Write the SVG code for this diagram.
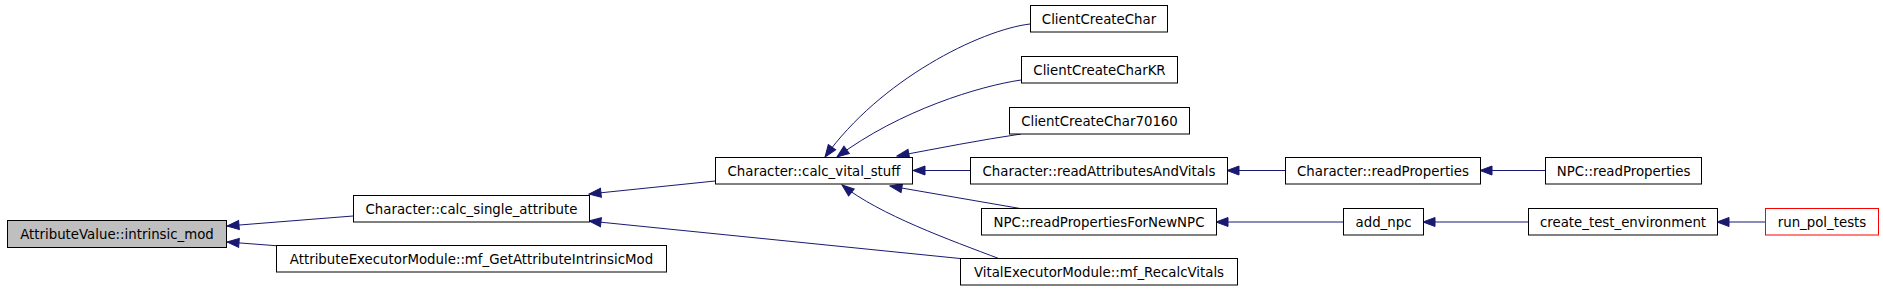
<svg xmlns="http://www.w3.org/2000/svg" width="1883" height="291" viewBox="0 0 1883 291">
<style>
.n rect{fill:#ffffff;stroke:#000000;stroke-width:1}
.n text{font-family:"DejaVu Sans","Liberation Sans",sans-serif;font-size:13.33px;fill:#000000;text-anchor:middle}
#edges path{fill:none;stroke:#191970;stroke-width:1;marker-end:url(#ah)}
</style>
<defs>
<marker id="ah" markerUnits="userSpaceOnUse" viewBox="-13 -6 14 12" markerWidth="14" markerHeight="12" refX="0" refY="0" orient="auto">
<path d="M-12,-4.5 L0,0 L-12,4.5 z" fill="#191970" stroke="#191970" stroke-width="1"/>
</marker>
</defs>
<rect width="1883" height="291" fill="#ffffff"/>
<g id="edges">
<path d="M353,216 L227,226"/>
<path d="M280,246 L227,242"/>
<path d="M715,181 L589,194"/>
<path d="M965,259 L589,221"/>
<path d="M1030,24 C980,30 880,80 825,157"/>
<path d="M1021,80 C980,86 900,110 837,157"/>
<path d="M1021,134 C980,140 940,148 897,156"/>
<path d="M970,170.5 L913,170.5"/>
<path d="M1023,209 L890,186"/>
<path d="M1000,259 C950,240 880,215 842,185"/>
<path d="M1285,170.5 L1227,170.5"/>
<path d="M1545,170.5 L1480,170.5"/>
<path d="M1343,222 L1216,222"/>
<path d="M1528,222 L1423,222"/>
<path d="M1765,222 L1717,222"/>
</g>
<g id="node1" class="n"><rect x="7.5" y="220.5" width="219" height="27" style="fill:#bfbfbf"/><text x="117" y="238.5">AttributeValue::intrinsic_mod</text></g>
<g id="node2" class="n"><rect x="353.5" y="195.5" width="236" height="26.5"/><text x="471.5" y="213.5">Character::calc_single_attribute</text></g>
<g id="node3" class="n"><rect x="276.5" y="245.5" width="390" height="26.5"/><text x="471.5" y="263.5">AttributeExecutorModule::mf_GetAttributeIntrinsicMod</text></g>
<g id="node4" class="n"><rect x="715.5" y="157.5" width="197" height="26.5"/><text x="814" y="175.5">Character::calc_vital_stuff</text></g>
<g id="node5" class="n"><rect x="1030.5" y="5.5" width="137" height="26.5"/><text x="1099" y="23.5">ClientCreateChar</text></g>
<g id="node6" class="n"><rect x="1021.5" y="56.5" width="156" height="26.5"/><text x="1099.5" y="74.5">ClientCreateCharKR</text></g>
<g id="node7" class="n"><rect x="1009.5" y="107.5" width="180" height="26.5"/><text x="1099.5" y="125.5">ClientCreateChar70160</text></g>
<g id="node8" class="n"><rect x="970.5" y="157.5" width="257" height="26.5"/><text x="1099" y="175.5">Character::readAttributesAndVitals</text></g>
<g id="node9" class="n"><rect x="981.5" y="208.5" width="235" height="26.5"/><text x="1099" y="226.5">NPC::readPropertiesForNewNPC</text></g>
<g id="node10" class="n"><rect x="960.5" y="258.5" width="277" height="26.5"/><text x="1099" y="276.5">VitalExecutorModule::mf_RecalcVitals</text></g>
<g id="node11" class="n"><rect x="1285.5" y="157.5" width="195" height="26.5"/><text x="1383" y="175.5">Character::readProperties</text></g>
<g id="node12" class="n"><rect x="1343.5" y="208.5" width="80" height="26.5"/><text x="1383.5" y="226.5">add_npc</text></g>
<g id="node13" class="n"><rect x="1545.5" y="157.5" width="156" height="26.5"/><text x="1623.5" y="175.5">NPC::readProperties</text></g>
<g id="node14" class="n"><rect x="1528.5" y="208.5" width="189" height="26.5"/><text x="1623" y="226.5">create_test_environment</text></g>
<g id="node15" class="n"><rect x="1765.5" y="208.5" width="113" height="26.5" style="stroke:#ff0000"/><text x="1822" y="226.5">run_pol_tests</text></g>
</svg>
